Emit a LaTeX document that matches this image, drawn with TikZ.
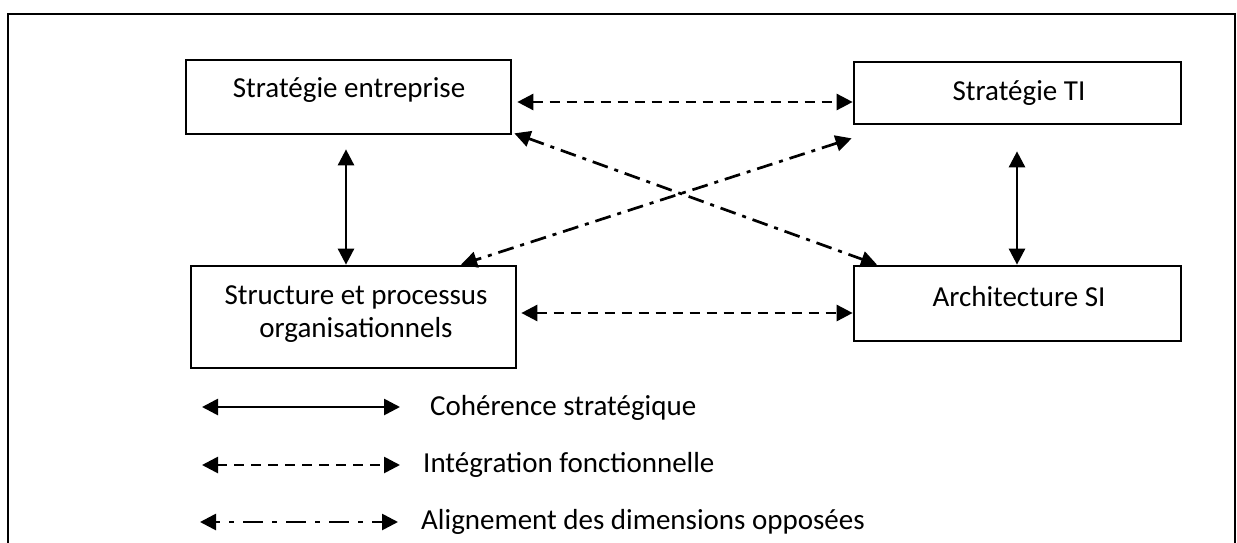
\documentclass[tikz,border=0pt]{standalone}
\usepackage{fontspec}
\setmainfont{Carlito}
\usetikzlibrary{arrows.meta,calc}
\begin{document}
\begin{tikzpicture}[x=1pt,y=-1pt,
  >={Triangle[length=16pt,width=16pt]},
  every node/.style={font=\fontsize{29}{35}\selectfont, inner sep=0pt},
  box/.style={draw, line width=2.7pt, rectangle},
  lbl/.style={align=center},
  coh/.style={line width=2.7pt, <->},
  integ/.style={line width=2.7pt, <->, dash pattern=on 10pt off 7pt},
  crossline/.style={line width=2.7pt, <->, dash pattern=on 16pt off 7pt on 4pt off 7pt}
]
\useasboundingbox (0,0) rectangle (1237,543);
% frame, open at the bottom
\draw[line width=2.7pt] (8,546) -- (8,14) -- (1235,14) -- (1235,546);

% the four dimensions
\node[box, minimum width=325pt, minimum height=74pt] (se) at (348.5,97) {};
\node[lbl] (se-t) at (349,90) {Stratégie entreprise};
\node[box, minimum width=327pt, minimum height=62pt] (ti) at (1017.5,93) {};
\node[lbl] (ti-t) at (1019,93) {Stratégie TI};
\node[box, minimum width=325pt, minimum height=102pt] (sp) at (353.5,317) {};
\node[lbl] (sp-t) at (356,314) {Structure et processus\\[-2pt]organisationnels};
\node[box, minimum width=327pt, minimum height=75pt] (si) at (1017.5,303.5) {};
\node[lbl] (si-t) at (1019,297) {Architecture SI};

% strategic coherence
\draw[coh, shorten <=14pt] (se.south -| 346,0) -- (sp.north -| 346,0);
\draw[coh, shorten <=26pt] (ti.south -| 1017,0) -- (si.north -| 1017,0);

% functional integration
\draw[integ, shorten <=5pt] (se.east |- 0,102) -- (ti.west |- 0,102);
\draw[integ, shorten <=4pt] (sp.east |- 0,313) -- (si.west |- 0,313);

% cross-dimension alignment
\draw[crossline] ($(se.south east)+(2,-2)$) -- (si.north -| 877,0);
\draw[crossline] ($(ti.south west)+(-1,13)$) -- (sp.north -| 461,0);

% legend
\coordinate (l1a) at (202,407); \coordinate (l1b) at (400,407);
\coordinate (l2a) at (202,465); \coordinate (l2b) at (400,465);
\coordinate (l3a) at (200,522); \coordinate (l3b) at (398,522);
\draw[coh] (l1a) -- (l1b);
\draw[integ] (l2a) -- (l2b);
\draw[crossline, dash pattern=on 20pt off 9pt on 5pt off 9pt, dash phase=15pt] (l3a) -- (l3b);
\node[anchor=west] (c1) at (430,408) {Cohérence stratégique};
\node[anchor=west] (c2) at (423,465) {Intégration fonctionnelle};
\node[anchor=west] (c3) at (421,522) {Alignement des dimensions opposées};
\end{tikzpicture}
\end{document}
